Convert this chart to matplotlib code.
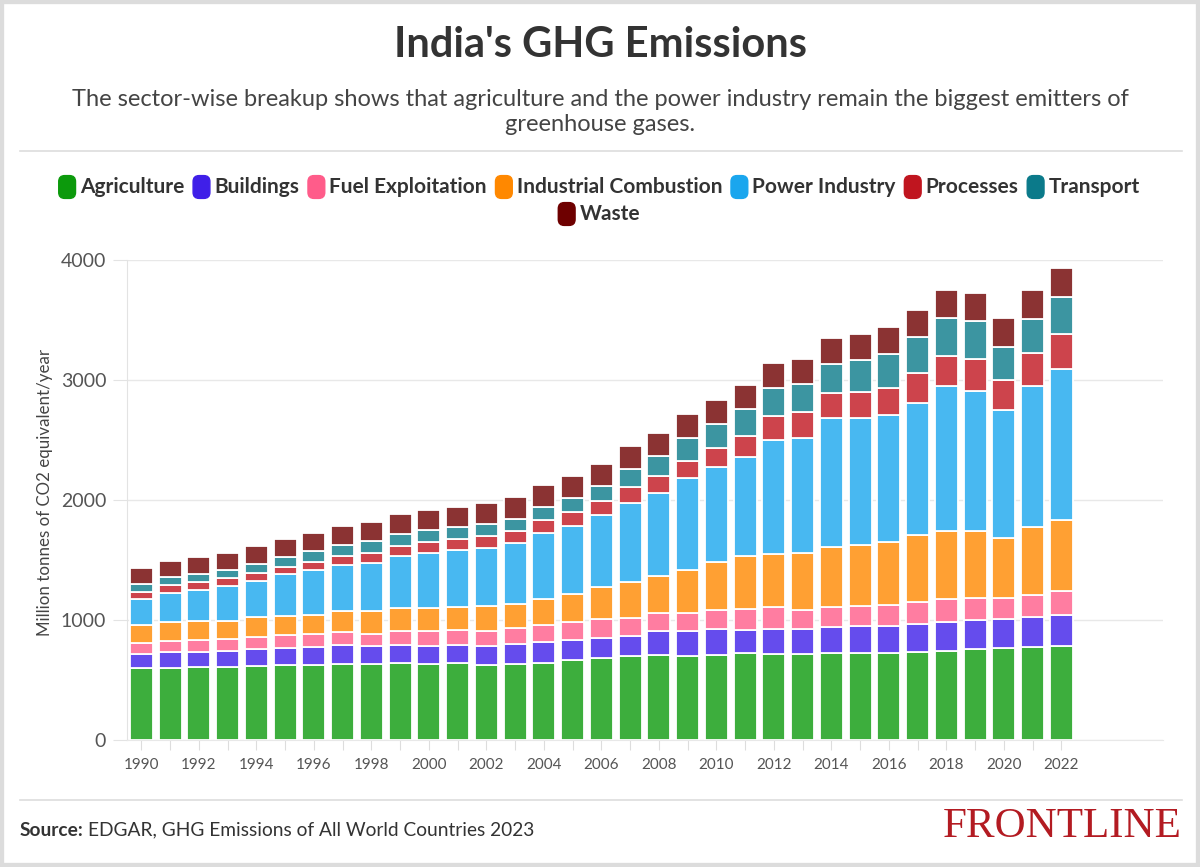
import numpy as np
import matplotlib.pyplot as plt
from matplotlib.patches import FancyBboxPatch, Rectangle
from matplotlib.lines import Line2D
from matplotlib.colors import to_rgb

plt.rcParams['font.family'] = ['Lato', 'DejaVu Sans']

years = np.arange(1990, 2023)
sectors = ["Agriculture", "Buildings", "Fuel Exploitation", "Industrial Combustion",
           "Power Industry", "Processes", "Transport", "Waste"]
colors = ['#0c9a0c', '#3f1fe8', '#ff5c8a', '#ff8800', '#1aa6ee', '#c0151f', '#0b7a8a', '#6e0000']

agriculture = [597, 603, 608, 611, 617, 625, 628, 631, 636, 639, 631, 639, 622, 633, 644, 667, 683,
               700, 708, 703, 711, 722, 714, 719, 722, 725, 728, 736, 744, 756, 767, 775, 783]
buildings = [117, 128, 128, 131, 141, 142, 147, 158, 147, 155, 155, 153, 161, 167, 170, 166, 170,
             169, 200, 203, 211, 195, 214, 206, 217, 222, 225, 231, 242, 241, 241, 247, 256]
fuel = [94, 97, 97, 97, 100, 105, 108, 108, 100, 117, 122, 122, 125, 133, 147, 150, 158,
        150, 148, 155, 159, 172, 183, 156, 167, 167, 169, 180, 186, 186, 173, 186, 203]
industrial = [153, 155, 159, 155, 167, 159, 161, 181, 192, 189, 192, 194, 209, 200, 214, 236, 261,
              295, 313, 358, 402, 447, 436, 475, 500, 508, 531, 559, 570, 559, 505, 567, 589]
power = [214, 245, 261, 289, 303, 350, 373, 383, 397, 436, 461, 475, 480, 506, 550, 567, 600,
         664, 687, 762, 789, 825, 953, 963, 1077, 1059, 1053, 1105, 1205, 1169, 1064, 1175, 1263]
processes = [58, 61, 61, 64, 66, 63, 66, 75, 86, 83, 92, 92, 103, 103, 111, 111, 120,
             130, 141, 147, 159, 175, 203, 214, 209, 216, 230, 247, 253, 264, 250, 275, 289]
transport = [70, 67, 69, 70, 73, 84, 92, 92, 98, 100, 97, 97, 100, 102, 108, 120, 127,
             150, 170, 186, 202, 220, 228, 234, 244, 267, 281, 298, 319, 319, 278, 286, 309]
waste = [130, 138, 145, 141, 147, 150, 150, 155, 161, 167, 167, 172, 172, 181, 181, 180, 184,
         189, 194, 200, 200, 202, 208, 211, 217, 219, 222, 227, 231, 234, 236, 239, 244]

series = [agriculture, buildings, fuel, industrial, power, processes, transport, waste]

W, H = 1200, 867
def fx(px):
    return px / W
def fy(py):
    return 1 - py / H
def soft(c, a=0.8):
    r = np.array(to_rgb(c))
    return tuple(r * a + (1 - a))

fig = plt.figure(figsize=(12, 8.67), dpi=100)
fig.patches.append(Rectangle((0, 0), 1, 1, transform=fig.transFigure, fill=False,
                             edgecolor='#dcdcdc', linewidth=6))

fig.text(0.5, fy(45), "India's GHG Emissions", ha='center', va='center',
         fontsize=30, weight='bold', color='#333333')
fig.text(0.5, fy(112), "The sector-wise breakup shows that agriculture and the power industry remain the biggest emitters of\ngreenhouse gases.",
         ha='center', va='center', fontsize=17, color='#444444', linespacing=1.2)
fig.add_artist(Line2D([fx(20), fx(1182)], [fy(151), fy(151)], color='#dddddd', lw=1.2))
fig.add_artist(Line2D([fx(20), fx(1182)], [fy(800), fy(800)], color='#dddddd', lw=1.2))

# legend, drawn by hand so the second row can be centred
renderer = fig.canvas.get_renderer()
rows = [sectors[:7], sectors[7:]]
row_y = [187, 214]
for row, yy in zip(rows, row_y):
    texts = []
    widths = []
    for name in row:
        t = fig.text(0, fy(yy), name, fontsize=15, weight='bold', color='#333333',
                     va='center', ha='left')
        texts.append(t)
        widths.append(t.get_window_extent(renderer).width)
    box_w, gap1, gap2 = 14, 6, 10
    total = sum(box_w + gap1 + w for w in widths) + gap2 * (len(row) - 1)
    x = (W - total) / 2
    for name, t, w in zip(row, texts, widths):
        c = colors[sectors.index(name)]
        fig.patches.append(FancyBboxPatch((fx(x + 1), fy(yy + 9)), fx(box_w - 2), 18 / H,
                                          boxstyle='round,pad=0.002,rounding_size=0.005',
                                          transform=fig.transFigure, facecolor=c, edgecolor=c,
                                          mutation_aspect=W / H))
        t.set_x(fx(x + box_w + gap1))
        x += box_w + gap1 + w + gap2

ax = fig.add_axes([fx(127), fy(740), fx(1163) - fx(127), (740 - 260) / H])
bottom = np.zeros(len(years))
for name, vals, c in zip(sectors, series, colors):
    ax.bar(years, vals, width=0.8, bottom=bottom, color=soft(c), edgecolor='white',
           linewidth=1.3, label=name, zorder=2)
    bottom += np.array(vals)

ax.set_xlim(1989.5, 2025.53)
ax.set_ylim(0, 4000)
ax.set_yticks([0, 1000, 2000, 3000, 4000])
ax.set_xticks(years)
ax.set_xticklabels([str(y) if y % 2 == 0 else '' for y in years])
ax.grid(axis='y', color='#e8e8e8', lw=1, zorder=0)
ax.set_axisbelow(True)
for s in ['top', 'right']:
    ax.spines[s].set_visible(False)
ax.spines['left'].set_color('#e3e3e3')
ax.spines['bottom'].set_color('#e8e8e8')
ax.tick_params(axis='y', length=10, color='#e3e3e3', labelcolor='#555555', labelsize=14, pad=5)
ax.tick_params(axis='x', length=7, color='#dddddd', labelcolor='#555555', labelsize=11, pad=6)

fig.text(fx(45), fy(492), "Million tonnes of CO2 equivalent/year", rotation=90, ha='center',
         va='center', fontsize=12.2, color='#444444')

src = fig.text(fx(20), fy(830), "Source:", fontsize=13.8, weight='bold', color='#333333',
               va='center', ha='left')
sw = src.get_window_extent(renderer).width
fig.text(fx(20 + sw + 4), fy(830), "EDGAR, GHG Emissions of All World Countries 2023",
         fontsize=13.8, color='#333333', va='center', ha='left')
fig.text(fx(1182), fy(827), "FRONTLINE", fontsize=31, color='#b31b22', family='Liberation Serif',
         va='center', ha='right')

fig.savefig('out.png', dpi=100)
